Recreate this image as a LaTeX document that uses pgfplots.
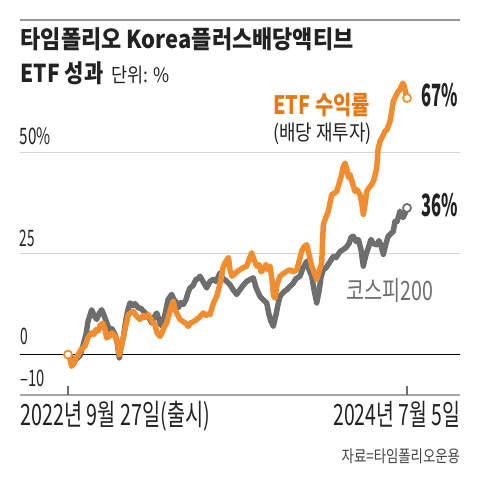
\documentclass[border=0pt]{standalone}
\usepackage{pgfplots}
\pgfplotsset{compat=1.18}
\usepackage{fontspec}
\usepackage{graphicx}
\setmainfont{Noto Sans CJK KR}
\definecolor{etf}{RGB}{241,141,46}
\definecolor{etflab}{RGB}{226,122,22}
\definecolor{kospi}{RGB}{110,110,110}
\definecolor{txt}{RGB}{34,34,34}
\definecolor{gridc}{RGB}{212,212,212}
\definecolor{axc}{RGB}{165,165,165}
\definecolor{rulec}{RGB}{150,150,150}
\newcommand{\tx}[5]{\node[anchor=base #1, inner sep=0pt, outer sep=0pt] at (#2) {\resizebox{#3}{\height}{#4{}#5}};}
\begin{document}
\begin{tikzpicture}[x=0.75pt,y=0.75pt]
\path[use as bounding box, fill=white] (0,0) rectangle (480,484);
\draw[rulec, line width=1.5pt] (20,464) -- (460,464);
\tx{west}{20.7,435}{249.5pt}{\color{txt}\fontsize{18.5}{21}\selectfont\bfseries}{타임폴리오 Korea플러스배당액티브}
\tx{west}{20.7,401.5}{62pt}{\color{txt}\fontsize{18.5}{21}\selectfont\bfseries}{ETF 성과}
\tx{west}{111,401.5}{43.7pt}{\color{txt}\fontsize{15}{18}\selectfont}{단위: \%}
\begin{axis}[at={(15pt,66.75pt)}, anchor=south west, scale only axis,
  width=330pt, height=240pt, xmin=-48, xmax=392, ymin=-10, ymax=69.21,
  axis line style={draw=none}, xtick=\empty, ytick=\empty, clip=false]
\draw[gridc, line width=0.8pt] (axis cs:-48,25) -- (axis cs:392,25);
\draw[gridc, line width=0.8pt] (axis cs:-48,50) -- (axis cs:392,50);
\draw[black, line width=0.8pt] (axis cs:-48,0) -- (axis cs:392,0);
\draw[axc, line width=0.9pt] (axis cs:-48,-10) -- (axis cs:392,-10);
\draw[kospi, line width=0.9pt] (axis cs:0,-10) -- ++(0pt,6.75pt);
\draw[kospi, line width=0.9pt] (axis cs:339,-10) -- ++(0pt,6.75pt);
\addplot[kospi, line width=4.1pt, line join=round, line cap=round] table {
0 0
3 -0.7
6 -1.7
9 -1.0
12 -0.2
15.3 2.5
18 5.0
20 8.2
23.7 11.1
26 9.7
28.7 8.7
31 10.1
33.7 11.1
36 9.7
38.7 7.9
42 5.8
44 6.4
47 5.0
49 3.2
51.3 -0.8
53 1.7
55.3 4.2
58 8.7
60 11.1
62 12.8
65 12.1
67 12.6
70.3 11.6
73 11.4
76 10.6
78.7 9.9
81 9.2
83.7 7.8
86 9.2
88.7 10.3
91 8.7
93 7.2
95.3 8.2
98 11.1
100 13.6
103.7 14.9
106 13.6
108 13.1
110.3 11.6
113 12.9
115.3 12.4
118 13.6
120 15.3
122 16.5
125 17.1
128 18.6
130 18.8
132 19.4
135 18.1
138.7 16.5
142 18.1
145 18.6
148 18.1
152 20.2
155 18.8
158 18.3
162 17.3
165 16.1
168.7 14.9
172 16.1
175 17.1
178.7 18.1
182 18.6
185.3 19.0
188 16.6
192 14.4
195 13.6
198.7 12.8
201 9.9
203 8.2
205.3 7.0
208 9.9
210 12.4
212 14.4
216 15.6
219 16.1
222 16.9
225 17.6
228 18.8
232 19.4
235 21.5
238.7 23.1
241 21.0
243.7 19.4
246 16.1
248.7 12.8
251 15.6
253 19.1
255.3 21.0
258 21.5
262 23.0
265.3 24.3
268 24.0
272 25.5
275.3 26.0
278 26.5
281 27.5
283 29.0
285.3 29.3
288 28.0
290.3 28.5
293 26.0
295.3 21.9
298 24.8
300.3 26.4
303 28.5
305 27.5
308.7 27.2
311 28.2
313 27.0
315.3 24.8
318 27.5
320 29.2
323 30.0
325.3 30.5
327 33.0
329 32.9
332 35.5
335 33.9
337 34.9
339 36.3
};
\addplot[etf, line width=4.1pt, line join=round, line cap=round] table {
0 0
2 -1.2
3.7 -2.9
6 -2.2
8 -0.7
10.3 0.0
13 1.2
17 2.1
20 4.2
23.7 5.4
26 5.0
28 6.2
30.3 5.8
32 7.2
34.7 7.8
37 6.2
38.7 4.1
42 4.7
44 5.4
47 4.5
49 3.7
51.3 0.0
53 1.7
55.3 4.2
58 7.4
60.3 9.9
63 10.4
65.3 10.7
68 9.7
70 9.2
72 8.7
75 9.7
77 9.2
80.3 9.9
83 8.7
85 7.9
87 7.4
89 5.4
92 4.5
94 5.4
96 6.7
98.7 7.8
101 9.9
103 11.6
105.3 13.2
107 11.1
109 10.1
112 8.7
115 8.2
118 7.7
120.3 7.0
123 7.9
126 8.2
128.7 8.7
131 9.2
133 9.7
135.3 10.3
138 9.7
140 10.1
142 9.9
144 11.6
146 13.1
148.7 14.4
151 16.6
153 18.6
155 21.5
157 22.7
159 23.5
160.5 24.0
162 21.0
164 19.4
167 20.0
169 20.5
172 21.0
175 21.5
178.7 21.9
181 23.5
183.7 25.2
186 23.5
188.7 21.9
191 22.3
193 20.5
195.3 21.0
198 22.3
200 21.0
202 21.9
204 18.6
205.5 14.6
207 14.0
209 17.3
212 19.4
215 20.0
218 20.5
222 21.0
225 20.5
228.7 21.0
231 23.0
233.7 25.6
236 26.7
238.7 27.2
241 24.8
243.7 21.9
246 20.5
248.7 18.6
251 20.5
253.7 22.7
255.3 32.2
257 33.4
260.3 35.5
263.7 39.6
266 39.9
268.7 40.4
271 42.3
273.7 44.6
275 46.3
277 47.4
279 45.8
280.5 43.8
282 44.6
284 42.8
287 40.4
289 40.8
292 39.6
294 37.1
295.3 34.7
297 37.1
298.7 40.4
301 41.3
303.7 42.1
306 43.3
308.7 46.2
310 50.7
312 52.8
314 53.7
317 55.3
319 55.7
322 57.7
324 60.6
325.3 62.7
327 63.6
330.3 65.2
332 65.6
334.7 67.2
336 66.6
337.5 65.1
339 63.5
};
\addplot[only marks, mark=*, mark size=3pt, mark options={fill=white, draw=etf, line width=1.3pt}] coordinates {(0,0) (339,63.5)};
\addplot[only marks, mark=*, mark size=3pt, mark options={fill=white, draw=kospi, line width=1.3pt}] coordinates {(339,36.3)};
\end{axis}
\tx{west}{20,339}{23.25pt}{\color{txt}\fontsize{17}{20}\selectfont}{50\%}
\tx{west}{20,237.5}{11.25pt}{\color{txt}\fontsize{17}{20}\selectfont}{25}
\tx{west}{20.7,139}{5.75pt}{\color{txt}\fontsize{17}{20}\selectfont}{0}
\tx{west}{20.7,97.3}{18.2pt}{\color{txt}\fontsize{17}{20}\selectfont}{–10}
\tx{west}{273.3,369.5}{72.5pt}{\color{etflab}\fontsize{19}{22}\selectfont\bfseries}{ETF 수익률}
\tx{west}{273.3,343}{74pt}{\color{txt}\fontsize{16}{19}\selectfont}{(배당 재투자)}
\tx{west}{421.7,377.5}{27.5pt}{\color{txt}\fontsize{23}{26}\selectfont\bfseries}{67\%}
\tx{west}{421.7,267.5}{27.5pt}{\color{txt}\fontsize{23}{26}\selectfont\bfseries}{36\%}
\tx{west}{346.7,183}{65pt}{\color{kospi}\fontsize{20}{23}\selectfont}{코스피200}
\tx{west}{20.7,58}{142pt}{\color{txt}\fontsize{22}{25}\selectfont}{2022년 9월 27일(출시)}
\tx{east}{460,58}{95pt}{\color{txt}\fontsize{22}{25}\selectfont}{2024년 7월 5일}
\tx{east}{460,21.5}{88.7pt}{\color{txt!85}\fontsize{12.5}{15}\selectfont}{자료=타임폴리오운용}
\end{tikzpicture}
\end{document}
